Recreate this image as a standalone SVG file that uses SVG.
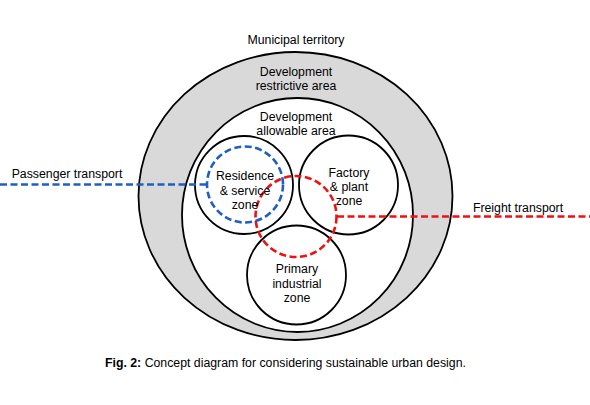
<svg xmlns="http://www.w3.org/2000/svg" width="590" height="405" viewBox="0 0 590 405">
<style>
text{font-family:"Liberation Sans",Arial,sans-serif;font-size:12.3px;fill:#000;text-anchor:middle}
.zone{fill:#fff;stroke:#000;stroke-width:1.8}
.blue{fill:none;stroke:#1f5fbf;stroke-width:2.6;stroke-dasharray:7 3.5}
.red{fill:none;stroke:#ee1111;stroke-width:2.6;stroke-dasharray:7 3.5}
</style>
<rect width="590" height="405" fill="#fff"/>
<g id="municipal">
<ellipse cx="295.5" cy="196" rx="157" ry="144" fill="#d9d9d9" stroke="#000" stroke-width="1.8"/>
<text x="296" y="44">Municipal territory</text>
<text x="296" y="76">Development</text>
<text x="296" y="90">restrictive area</text>
</g>
<g id="allowable">
<ellipse cx="297.5" cy="215" rx="115.5" ry="117" class="zone"/>
<text x="296" y="121">Development</text>
<text x="296" y="135">allowable area</text>
</g>
<g id="residence">
<circle cx="244" cy="185" r="49" class="zone"/>
</g>
<g id="factory">
<circle cx="348.5" cy="185" r="49.5" class="zone"/>
<text x="349" y="177">Factory</text>
<text x="349" y="191">&amp; plant</text>
<text x="349" y="205">zone</text>
</g>
<g id="primary">
<circle cx="296.5" cy="275" r="49.5" class="zone"/>
<text x="297" y="273">Primary</text>
<text x="297" y="288">industrial</text>
<text x="297" y="302">zone</text>
</g>
<g id="connectors">
<circle cx="296" cy="216.5" r="40.5" class="red"/>
<line x1="337" y1="216.5" x2="590" y2="216.5" class="red"/>
<circle cx="245" cy="184.5" r="38" class="blue"/>
<line x1="0" y1="184.5" x2="207" y2="184.5" class="blue"/>
</g>
<g id="residence-label">
<text x="245" y="180">Residence</text>
<text x="245" y="195">&amp; service</text>
<text x="245" y="209">zone</text>
</g>
<g id="labels">
<text x="67" y="178">Passenger transport</text>
<text x="518" y="212">Freight transport</text>
</g>
<g id="caption">
<text x="105" y="367" style="text-anchor:start"><tspan font-weight="bold">Fig. 2:</tspan> Concept diagram for considering sustainable urban design.</text>
</g>
</svg>
